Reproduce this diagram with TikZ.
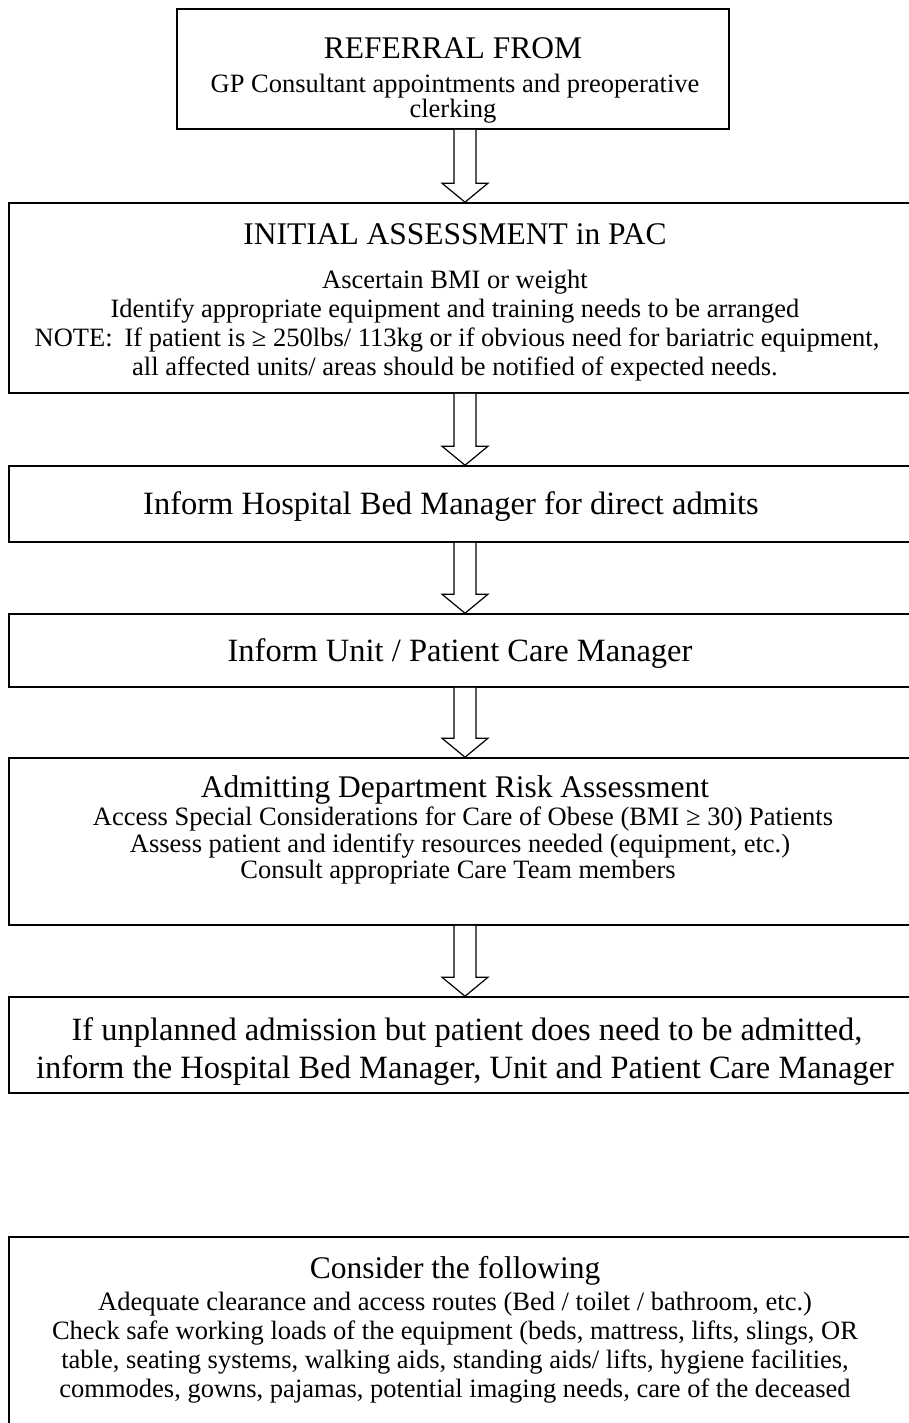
\documentclass[tikz,border=0pt]{standalone}
\usepackage{fontspec}
\setmainfont{Liberation Serif}
\usetikzlibrary{calc}
\tikzset{
  flowbox/.style={draw, line width=1.6pt, inner sep=0pt, fill=white},
  bodytxt/.style={anchor=base, inner sep=0pt, font=\fontsize{26.5}{31}\selectfont},
  headtxt/.style={anchor=base, inner sep=0pt, font=\fontsize{31.5}{36}\selectfont},
  bigtxt/.style={anchor=base, inner sep=0pt, font=\fontsize{32.5}{38}\selectfont},
  arrowline/.style={draw, line width=1.2pt, fill=white, line join=miter}
}
% hollow block arrow from the bottom of one box to the top of the next
\newcommand{\flowarrow}[2]{%
  \path (#1.south -| axis) coordinate (atop) (#2.north -| axis) coordinate (abot);
  \draw[arrowline] ($(atop)+(-11,0)$) -- ($(abot)+(-11,-19)$) -- ($(abot)+(-23,-19)$)
    -- (abot) -- ($(abot)+(23,-19)$) -- ($(abot)+(11,-19)$) -- ($(atop)+(11,0)$);
}
\begin{document}
\begin{tikzpicture}[x=1pt,y=-1pt]
\useasboundingbox (0,0) rectangle (909,1423);
\clip (0,0) rectangle (909,1423);
\fill[white] (0,0) rectangle (909,1423);
\coordinate (axis) at (465,0);

% boxes
\node[flowbox, minimum width=552pt, minimum height=120pt] (b1) at (453,69) {};
\node[flowbox, minimum width=930pt, minimum height=190pt] (b2) at (474,298) {};
\node[flowbox, minimum width=930pt, minimum height=76pt]  (b3) at (474,504) {};
\node[flowbox, minimum width=930pt, minimum height=73pt]  (b4) at (474,650.5) {};
\node[flowbox, minimum width=930pt, minimum height=167pt] (b5) at (474,841.5) {};
\node[flowbox, minimum width=930pt, minimum height=96pt]  (b6) at (474,1045) {};
\node[flowbox, minimum width=930pt, minimum height=240pt] (b7) at (474,1357) {};

% arrows between steps
\flowarrow{b1}{b2}
\flowarrow{b2}{b3}
\flowarrow{b3}{b4}
\flowarrow{b4}{b5}
\flowarrow{b5}{b6}

% texts
\node[headtxt] (t1a) at (453,59) {REFERRAL FROM};
\node[bodytxt] (t1b) at (455,93) {GP Consultant appointments and preoperative};
\node[bodytxt] (t1c) at (453,118) {clerking};

\node[headtxt] (t2a) at (455,244) {INITIAL ASSESSMENT in PAC};
\node[bodytxt] (t2b) at (455,288) {Ascertain BMI or weight};
\node[bodytxt] (t2c) at (455,317) {Identify appropriate equipment and training needs to be arranged};
\node[bodytxt] (t2d) at (457,346) {NOTE:\hspace{12pt}If patient is ≥ 250lbs/ 113kg or if obvious need for bariatric equipment,};
\node[bodytxt] (t2e) at (455,375) {all affected units/ areas should be notified of expected needs.};

\node[bigtxt] (t3) at (451,514) {Inform Hospital Bed Manager for direct admits};
\node[bigtxt] (t4) at (460,661) {Inform Unit / Patient Care Manager};

\node[headtxt] (t5a) at (455,797) {Admitting Department Risk Assessment};
\node[bodytxt] (t5b) at (463,825) {Access Special Considerations for Care of Obese (BMI ≥ 30) Patients};
\node[bodytxt] (t5c) at (460,852) {Assess patient and identify resources needed (equipment, etc.)};
\node[bodytxt] (t5d) at (458,878) {Consult appropriate Care Team members};

\node[bigtxt] (t6a) at (467,1040) {If unplanned admission but patient does need to be admitted,};
\node[bigtxt] (t6b) at (465,1078) {inform the Hospital Bed Manager, Unit and Patient Care Manager};

\node[headtxt] (t7a) at (455,1278) {Consider the following};
\node[bodytxt] (t7b) at (455,1310) {Adequate clearance and access routes (Bed / toilet / bathroom, etc.)};
\node[bodytxt] (t7c) at (455,1339) {Check safe working loads of the equipment (beds, mattress, lifts, slings, OR};
\node[bodytxt] (t7d) at (455,1368) {table, seating systems, walking aids, standing aids/ lifts, hygiene facilities,};
\node[bodytxt] (t7e) at (455,1397) {commodes, gowns, pajamas, potential imaging needs, care of the deceased};
\end{tikzpicture}
\end{document}
